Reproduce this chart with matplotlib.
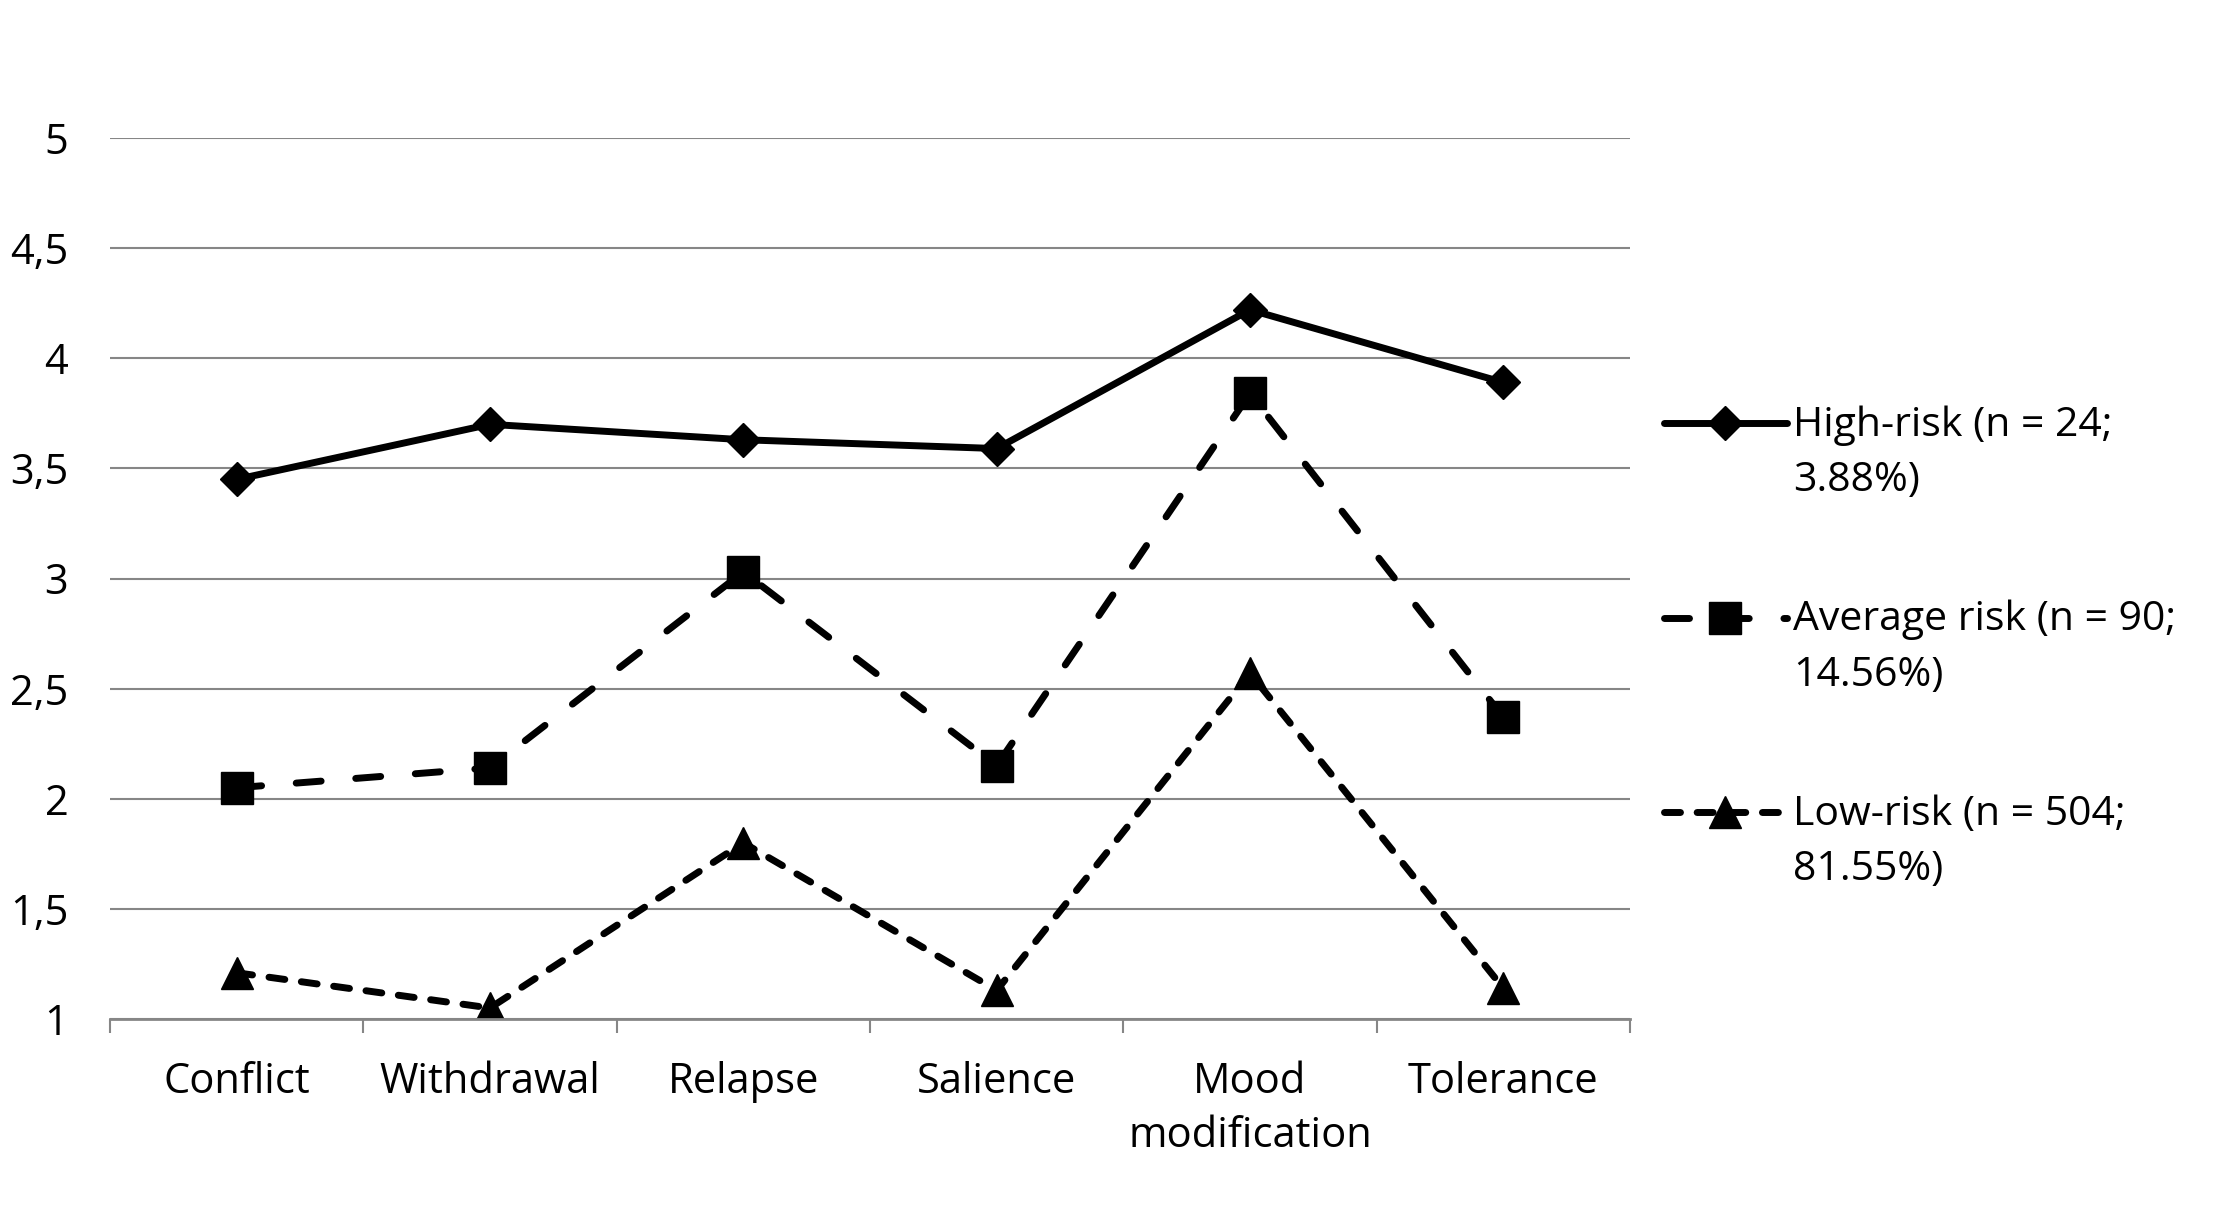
import matplotlib
matplotlib.use("Agg")
import matplotlib.pyplot as plt
import numpy as np

plt.rcParams['font.family'] = ['Open Sans', 'DejaVu Sans']

categories = ['Conflict', 'Withdrawal', 'Relapse', 'Salience', 'Mood\nmodification', 'Tolerance']
high_risk = [3.45, 3.70, 3.63, 3.59, 4.22, 3.89]
average_risk = [2.05, 2.14, 3.03, 2.15, 3.84, 2.37]
low_risk = [1.21, 1.05, 1.80, 1.13, 2.57, 1.14]
labels = ['High-risk (n = 24;\n3.88%)', 'Average risk (n = 90;\n14.56%)', 'Low-risk (n = 504;\n81.55%)']
yticks = [1, 1.5, 2, 2.5, 3, 3.5, 4, 4.5, 5]
ytick_labels = ['1', '1,5', '2', '2,5', '3', '3,5', '4', '4,5', '5']

W, H = 2220, 1213
fig = plt.figure(figsize=(W / 100, H / 100), dpi=100)
ax = fig.add_axes([110 / W, 1 - 1019 / H, (1630 - 110) / W, (1019 - 138) / H])

x = np.arange(len(categories))
lw = 5
ax.plot(x, high_risk, color='black', lw=lw, marker='D', ms=17, label=labels[0], solid_capstyle='round')
ax.plot(x, average_risk, color='black', lw=lw, marker='s', ms=23, label=labels[1],
        dashes=(3.6, 5.0), dash_capstyle='round')
ax.plot(x, low_risk, color='black', lw=lw, marker='^', ms=23, label=labels[2],
        dashes=(2.3, 2.4), dash_capstyle='round')

ax.set_xlim(-0.5, len(categories) - 0.5)
ax.set_ylim(1, 5)
ax.set_yticks(yticks)
ax.set_yticklabels(ytick_labels)
ax.set_xticks(x)
ax.set_xticklabels(categories, linespacing=1.4)
ax.set_xticks(np.arange(-0.5, len(categories)), minor=True)
ax.tick_params(axis='x', which='major', length=0, pad=30, labelsize=30)
ax.tick_params(axis='x', which='minor', length=10, width=1.5, color='#868686', direction='out')
ax.tick_params(axis='y', length=0, pad=30, labelsize=30)

ax.grid(axis='y', color='#868686', lw=1.5)
ax.set_axisbelow(True)
for s in ['top', 'right', 'left']:
    ax.spines[s].set_visible(False)
ax.spines['bottom'].set_color('#868686')
ax.spines['bottom'].set_linewidth(2)

leg = fig.legend(*ax.get_legend_handles_labels(), loc='upper left',
                 bbox_to_anchor=(1664 / W, 1 - 405 / H), frameon=False, fontsize=29.5,
                 handlelength=3.0, handleheight=1.3, handletextpad=0.15, labelspacing=2.4,
                 borderpad=0, borderaxespad=0)
for t in leg.get_texts():
    t.set_linespacing(1.5)
# put the line handle level with the first text line
for col in leg._legend_handle_box.get_children():
    for row in col.get_children():
        row.align = 'top'

fig.savefig('out.png', dpi=100)
